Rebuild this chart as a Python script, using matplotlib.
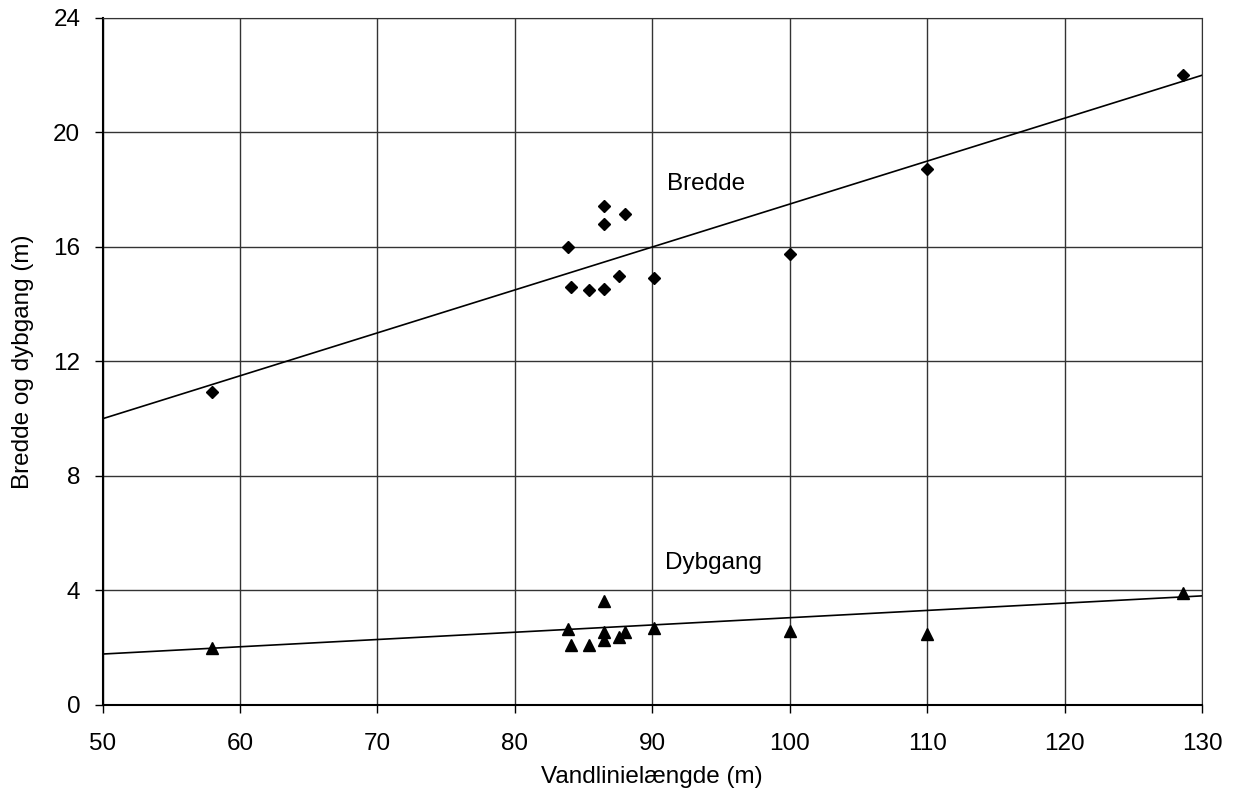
import numpy as np
import matplotlib.pyplot as plt

# Vandlinielængde (m)
laengde = [58, 83.9, 84.1, 85.4, 86.5, 86.5, 86.5, 87.6, 88.0, 90.1, 100, 110, 128.6]
bredde = [10.95, 16.0, 14.6, 14.5, 17.43, 16.82, 14.52, 15.0, 17.14, 14.9, 15.77, 18.72, 22.0]

laengde_dyb = [58, 83.9, 84.1, 85.4, 86.5, 86.5, 86.5, 87.6, 88.0, 90.1, 100, 110, 128.6]
dybgang = [2.0, 2.66, 2.10, 2.10, 3.65, 2.54, 2.27, 2.39, 2.56, 2.68, 2.59, 2.48, 3.92]

# trendlinjer (haeldning, skaering)
trend_bredde = (0.15, 2.5)
trend_dybgang = (0.0254, 0.51)

plt.rcParams["font.family"] = ["Liberation Sans", "DejaVu Sans"]

fig = plt.figure(figsize=(12.4, 8.07), dpi=100)
ax = fig.add_axes([0.0827, 0.1264, 0.8867, 0.8513])

xs = np.array([50, 130])
ax.plot(xs, trend_bredde[0] * xs + trend_bredde[1], color="black", lw=1.2)
ax.plot(xs, trend_dybgang[0] * xs + trend_dybgang[1], color="black", lw=1.2)

ax.plot(laengde, bredde, "D", color="black", ms=6.5, ls="none")
ax.plot(laengde_dyb, dybgang, "^", color="black", ms=8.5, ls="none")

ax.text(91.1, 18.2, "Bredde", fontsize=17.5, va="center")
ax.text(90.9, 4.95, "Dybgang", fontsize=17.5, va="center")

ax.set_xlim(50, 130)
ax.set_ylim(0, 24)
ax.set_xticks(range(50, 131, 10))
ax.set_yticks(range(0, 25, 4))
ax.grid(True, color="#333333", lw=1)
ax.set_axisbelow(True)
for s in ax.spines.values():
    s.set_color("#333333")
ax.spines["bottom"].set_color("black")
ax.spines["bottom"].set_linewidth(1.5)
ax.spines["left"].set_color("black")
ax.spines["left"].set_linewidth(1.5)
ax.tick_params(axis="both", labelsize=17.5, length=6, width=1, direction="out")
ax.tick_params(axis="x", pad=14)
ax.tick_params(axis="y", pad=10)

ax.set_xlabel("Vandlinielængde (m)", fontsize=17.5, labelpad=8)
ax.set_ylabel("Bredde og dybgang (m)", fontsize=17.5, labelpad=14)

plt.savefig("out.png", dpi=100)
